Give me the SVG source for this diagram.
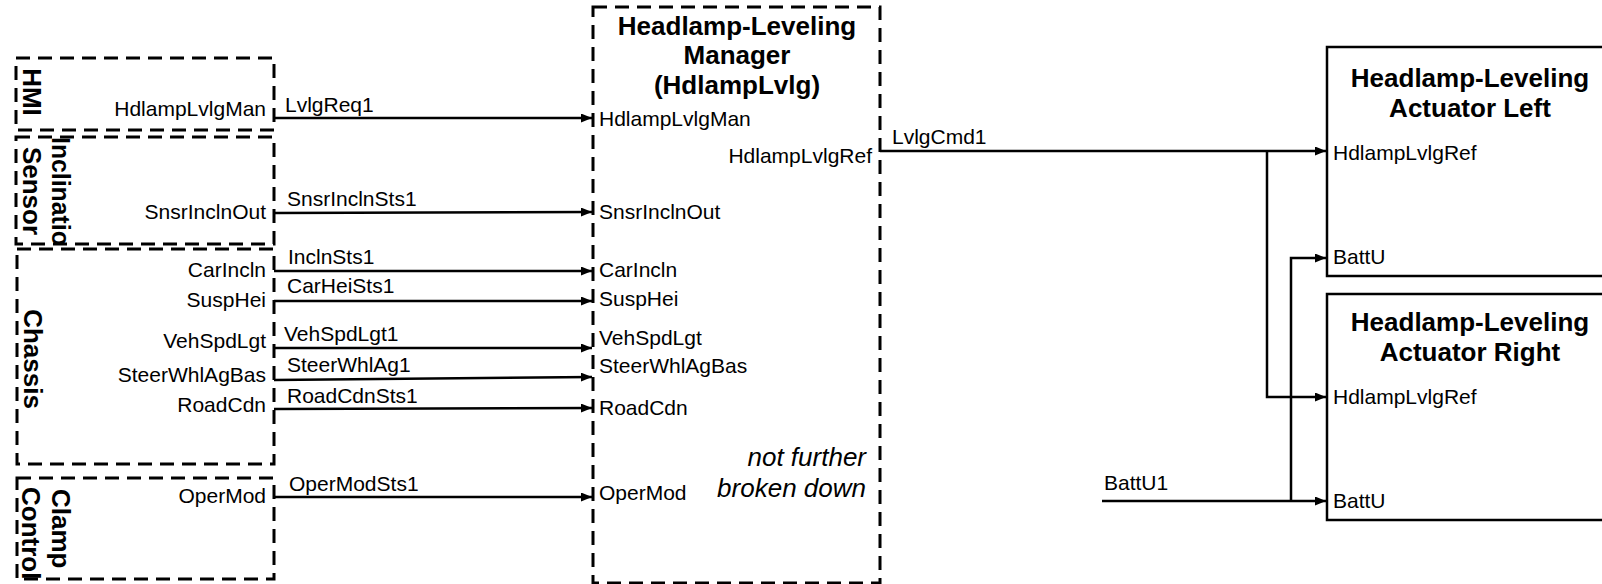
<svg xmlns="http://www.w3.org/2000/svg" width="1602" height="584" viewBox="0 0 1602 584">
<style>
.dash{fill:none;stroke:#000;stroke-width:3;stroke-dasharray:14 8}
.solid{fill:#fff;stroke:#000;stroke-width:2.5}
.c{fill:none;stroke:#000;stroke-width:2.5}
.lbl{font-family:"Liberation Sans",Arial,sans-serif;font-size:21px;fill:#000}
.ttl{font-family:"Liberation Sans",Arial,sans-serif;font-size:26px;font-weight:bold;fill:#000;text-anchor:middle}
.vt{font-family:"Liberation Sans",Arial,sans-serif;font-size:26px;font-weight:bold;fill:#000}
.it{font-family:"Liberation Sans",Arial,sans-serif;font-size:26px;font-style:italic;fill:#000;text-anchor:end}
.end{text-anchor:end}
</style>
<defs>
<marker id="ah" markerUnits="userSpaceOnUse" markerWidth="11" markerHeight="9" refX="11" refY="4.5" orient="auto">
<path d="M0,0 L11,4.5 L0,9 z" fill="#000"/>
</marker>
<clipPath id="clipIncl"><rect x="16" y="137" width="258" height="108"/></clipPath>
<clipPath id="clipClamp"><rect x="16" y="477" width="258" height="104"/></clipPath>
</defs>
<rect width="1602" height="584" fill="#fff"/>

<g id="hmi">
<rect class="dash" x="16" y="58" width="258" height="72"/>
<text class="vt" transform="translate(32,92) rotate(90)" x="0" y="9.5" text-anchor="middle">HMI</text>
<text class="lbl end" x="266" y="116">HdlampLvlgMan</text>
</g>

<g id="inclination-sensor">
<rect class="dash" x="16" y="137" width="258" height="107"/>
<g clip-path="url(#clipIncl)">
<text class="vt" transform="translate(61,137) rotate(90)" x="0" y="9.5" textLength="124" lengthAdjust="spacingAndGlyphs">Inclination</text>
</g>
<text class="vt" transform="translate(32,191) rotate(90)" x="0" y="9.5" text-anchor="middle">Sensor</text>
<text class="lbl end" x="266" y="219">SnsrInclnOut</text>
</g>

<g id="chassis">
<rect class="dash" x="17" y="249" width="257" height="215"/>
<text class="vt" transform="translate(33,359) rotate(90)" x="0" y="9.5" text-anchor="middle">Chassis</text>
<text class="lbl end" x="266" y="277">CarIncln</text>
<text class="lbl end" x="266" y="307">SuspHei</text>
<text class="lbl end" x="266" y="348">VehSpdLgt</text>
<text class="lbl end" x="266" y="382">SteerWhlAgBas</text>
<text class="lbl end" x="266" y="412">RoadCdn</text>
</g>

<g id="clamp-control">
<rect class="dash" x="17" y="478" width="257" height="101"/>
<g clip-path="url(#clipClamp)">
<text class="vt" transform="translate(61,489) rotate(90)" x="0" y="9.5">Clamp</text>
<text class="vt" transform="translate(31,487) rotate(90)" x="0" y="9.5">Control</text>
</g>
<text class="lbl end" x="266" y="503">OperMod</text>
</g>

<g id="headlamp-leveling-manager">
<rect class="dash" x="593" y="7" width="287" height="576"/>
<text class="ttl" x="737" y="35">Headlamp-Leveling</text>
<text class="ttl" x="737" y="64">Manager</text>
<text class="ttl" x="737" y="94">(HdlampLvlg)</text>
<text class="lbl" x="599" y="126">HdlampLvlgMan</text>
<text class="lbl end" x="872" y="163">HdlampLvlgRef</text>
<text class="lbl" x="599" y="219">SnsrInclnOut</text>
<text class="lbl" x="599" y="277">CarIncln</text>
<text class="lbl" x="599" y="306">SuspHei</text>
<text class="lbl" x="599" y="345">VehSpdLgt</text>
<text class="lbl" x="599" y="373">SteerWhlAgBas</text>
<text class="lbl" x="599" y="415">RoadCdn</text>
<text class="lbl" x="599" y="500">OperMod</text>
<text class="it" x="866" y="466">not further</text>
<text class="it" x="866" y="497">broken down</text>
</g>

<g id="actuator-left">
<rect class="solid" x="1327" y="47" width="320" height="229"/>
<text class="ttl" x="1470" y="87">Headlamp-Leveling</text>
<text class="ttl" x="1470" y="117">Actuator Left</text>
<text class="lbl" x="1333" y="160">HdlampLvlgRef</text>
<text class="lbl" x="1333" y="264">BattU</text>
</g>

<g id="actuator-right">
<rect class="solid" x="1327" y="294" width="320" height="226"/>
<text class="ttl" x="1470" y="331">Headlamp-Leveling</text>
<text class="ttl" x="1470" y="361">Actuator Right</text>
<text class="lbl" x="1333" y="404">HdlampLvlgRef</text>
<text class="lbl" x="1333" y="508">BattU</text>
</g>

<g id="connectors">
<path class="c" d="M274,118 H592" marker-end="url(#ah)"/>
<text class="lbl" x="285" y="112">LvlgReq1</text>
<path class="c" d="M274,213 L592,212" marker-end="url(#ah)"/>
<text class="lbl" x="287" y="206">SnsrInclnSts1</text>
<path class="c" d="M274,271 H592" marker-end="url(#ah)"/>
<text class="lbl" x="288" y="264">InclnSts1</text>
<path class="c" d="M274,301 H592" marker-end="url(#ah)"/>
<text class="lbl" x="287" y="293">CarHeiSts1</text>
<path class="c" d="M274,348 H592" marker-end="url(#ah)"/>
<text class="lbl" x="284" y="341">VehSpdLgt1</text>
<path class="c" d="M274,380 L592,377" marker-end="url(#ah)"/>
<text class="lbl" x="287" y="372">SteerWhlAg1</text>
<path class="c" d="M274,409 L592,408" marker-end="url(#ah)"/>
<text class="lbl" x="287" y="403">RoadCdnSts1</text>
<path class="c" d="M274,497 H592" marker-end="url(#ah)"/>
<text class="lbl" x="289" y="491">OperModSts1</text>
<path class="c" d="M880,151 H1326" marker-end="url(#ah)"/>
<path class="c" d="M1267,151 V397 H1326" marker-end="url(#ah)"/>
<text class="lbl" x="892" y="144">LvlgCmd1</text>
<path class="c" d="M1102,501 H1326" marker-end="url(#ah)"/>
<path class="c" d="M1291,501 V258 H1326" marker-end="url(#ah)"/>
<text class="lbl" x="1104" y="490">BattU1</text>
</g>
</svg>
